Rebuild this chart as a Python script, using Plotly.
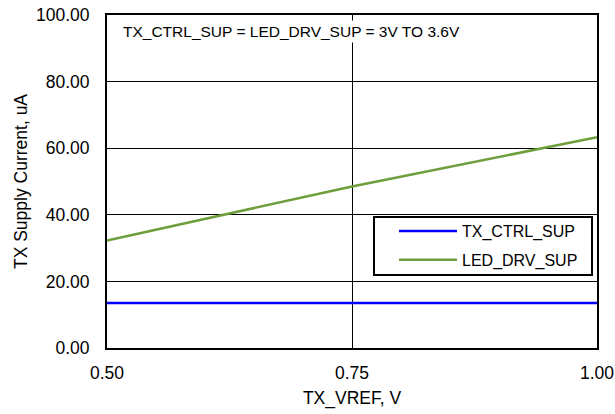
import plotly.graph_objects as go

tx_vref = [0.50, 0.75, 1.00]
tx_ctrl_sup = [13.5, 13.5, 13.5]
led_drv_sup = [32.3, 48.5, 63.3]
x_ticks = [0.50, 0.75, 1.00]
y_ticks = [0, 20, 40, 60, 80, 100]

FONT = "Liberation Sans, Arial, sans-serif"

fig = go.Figure()
fig.add_trace(go.Scatter(x=tx_vref, y=tx_ctrl_sup, mode="lines", name="TX_CTRL_SUP",
                         line=dict(color="#0000FF", width=2.5), legendgroup="a"))
fig.add_trace(go.Scatter(x=tx_vref, y=led_drv_sup, mode="lines", name="LED_DRV_SUP",
                         line=dict(color="#6E9E3C", width=2.5), legendgroup="b"))

fig.add_shape(type="rect", xref="paper", yref="paper",
              x0=(374 - 107) / 490, x1=(592 - 107) / 490,
              y0=(348 - 275) / 333, y1=(348 - 217) / 333,
              line=dict(color="black", width=2), fillcolor="white", layer="above")

fig.add_annotation(text="TX_CTRL_SUP = LED_DRV_SUP = 3V TO 3.6V", xref="paper", yref="paper",
                   x=(120 - 107) / 490, y=(348 - 32) / 333, xanchor="left", yanchor="middle",
                   showarrow=False, bgcolor="white", borderpad=2,
                   font=dict(family=FONT, size=15.5, color="black"))

fig.update_layout(
    width=615, height=414,
    margin=dict(l=107, r=18, t=15, b=66, autoexpand=False),
    paper_bgcolor="white", plot_bgcolor="white",
    font=dict(family=FONT, size=17, color="black"),
    showlegend=True,
    legend=dict(x=(394 - 107) / 490, y=(348 - 214) / 333, xanchor="left", yanchor="top",
                bgcolor="rgba(0,0,0,0)", borderwidth=0, font=dict(family=FONT, size=16),
                tracegroupgap=5, itemwidth=58),
    xaxis=dict(range=[0.5, 1.0], tickvals=x_ticks, tickformat=".2f", automargin=False,
               showline=True, mirror=True, linecolor="black", linewidth=2,
               showgrid=True, gridcolor="black", gridwidth=1, ticks="", zeroline=False,
               ticklabelstandoff=8, ticklabeloverflow="allow",
               title=dict(text="TX_VREF, V", font=dict(size=17.5), standoff=10),
               tickfont=dict(size=17.5)),
    yaxis=dict(range=[0, 100], tickvals=y_ticks, tickformat=".2f", automargin=False,
               showline=True, mirror=True, linecolor="black", linewidth=2,
               showgrid=True, gridcolor="black", gridwidth=1, ticks="", zeroline=False,
               ticklabelstandoff=12, ticklabeloverflow="allow",
               title=dict(text="TX Supply Current, uA", font=dict(size=17.5), standoff=4),
               tickfont=dict(size=17.5)),
)

# remove the default 8px page margin so the 615x414 figure fills the window exactly
fig.write_html("out.html", config={"displayModeBar": False},
               post_script="document.body.style.margin='0';document.body.style.overflow='hidden';")
